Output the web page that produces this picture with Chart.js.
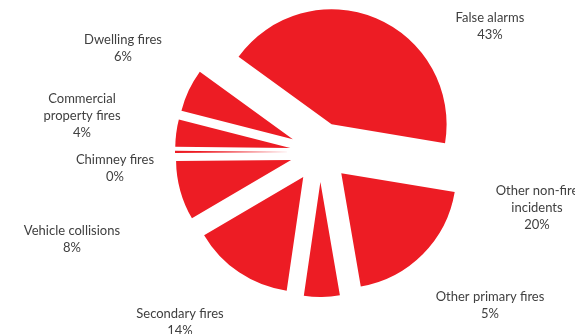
<!DOCTYPE html>
<html>
<head>
<meta charset="utf-8">
<script src="https://cdn.jsdelivr.net/npm/chart.js@4/dist/chart.umd.min.js"></script>
<style>
  html, body { margin: 0; padding: 0; background: #fff; }
  #wrap { width: 575px; height: 334px; }
</style>
</head>
<body>
<div id="wrap"><canvas id="incidentsChart"></canvas></div>
<script>
// incident categories, clockwise from the top slice
const categories = [
    ['False alarms'],
    ['Other non-fire', 'incidents'],
    ['Other primary fires'],
    ['Secondary fires'],
    ['Vehicle collisions'],
    ['Chimney fires'],
    ['Commercial', 'property fires'],
    ['Dwelling fires']
];
// share of all incidents (%)
const shares = [42.5, 19.6, 5.0, 14.2, 8.3, 0.3, 3.8, 6.0];

// where each label block sits (centre x, first line y)
const labelSpots = [
    [490, 18], [537, 191], [490, 297], [180, 314],
    [72, 231], [115, 160], [82, 99], [123, 40]
];

const RED = '#ED1C24';
const EXPLODE = 30;   // px each slice is pulled out from the centre

// pull every slice out along its own bisector
const explodePlugin = {
    id: 'explode',
    afterDatasetsUpdate(chart) {
        chart.getDatasetMeta(0).data.forEach(arc => {
            const mid = (arc.startAngle + arc.endAngle) / 2;
            arc.x += Math.cos(mid) * EXPLODE;
            arc.y += Math.sin(mid) * EXPLODE;
        });
    }
};

// category name + rounded percentage next to each slice
const labelPlugin = {
    id: 'sliceLabels',
    afterDraw(chart) {
        const ctx = chart.ctx;
        const vals = chart.data.datasets[0].data;
        const total = vals.reduce((a, b) => a + b, 0);
        ctx.save();
        ctx.font = '13px Lato';
        ctx.fillStyle = '#404040';
        ctx.textAlign = 'center';
        ctx.textBaseline = 'middle';
        categories.forEach((lines, i) => {
            const [x, y] = labelSpots[i];
            const text = lines.concat(Math.round(vals[i] / total * 100) + '%');
            text.forEach((t, j) => ctx.fillText(t, x, y + j * 17));
        });
        ctx.restore();
    }
};

new Chart(document.getElementById('incidentsChart'), {
    type: 'pie',
    data: {
        labels: categories.map(c => c.join(' ')),
        datasets: [{
            data: shares,
            backgroundColor: RED,
            borderWidth: 0
        }]
    },
    options: {
        responsive: true,
        maintainAspectRatio: false,
        animation: false,
        events: [],
        rotation: 306,
        layout: { padding: { left: 205, right: 140, top: 37, bottom: 67 } },
        plugins: {
            legend: { display: false },
            tooltip: { enabled: false }
        }
    },
    plugins: [explodePlugin, labelPlugin]
});
</script>
</body>
</html>
